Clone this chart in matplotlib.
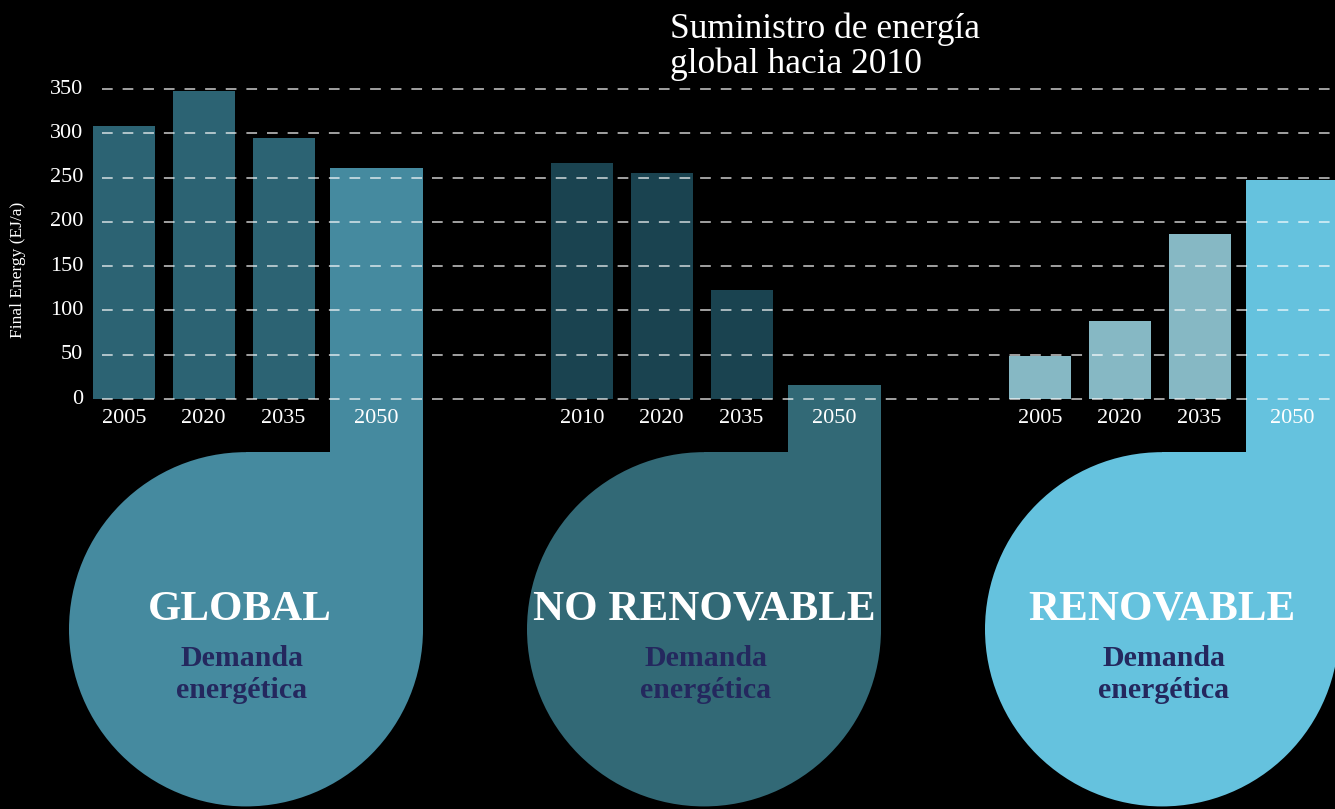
import matplotlib.pyplot as plt
from matplotlib.patches import Ellipse, Rectangle

# data (EJ/a)
group_names = ["GLOBAL", "NO RENOVABLE", "RENOVABLE"]
global_years = ["2005", "2020", "2035", "2050"]
global_values = [308, 348, 295, 261]
norenov_years = ["2010", "2020", "2035", "2050"]
norenov_values = [266, 255, 123, 16]
renov_years = ["2005", "2020", "2035", "2050"]
renov_values = [49, 88, 186, 247]
yticks = [0, 50, 100, 150, 200, 250, 300, 350]
title_lines = [u"Suministro de energía", u"global hacia 2010"]
bubble_sub = [u"Demanda", u"energética"]
ylabel = "Final Energy (EJ/a)"

# colours: (first three bars, 2050 bar + bubble)
colors = [("#2C6373", "#458A9F"), ("#1A4350", "#326976"), ("#86B8C4", "#65C2DE")]
navy = "#24285E"
serif = ["Liberation Serif", "DejaVu Serif"]

W, H = 1335, 809
y0_px = 399                 # pixel row of value 0
k = 310 / 350.0             # pixels per EJ/a
fig = plt.figure(figsize=(W / 100.0, H / 100.0), dpi=100, facecolor="black")
ax = fig.add_axes([0, 0, 1, 1])
ax.set_facecolor("black")
ax.set_xlim(0, W)
ax.set_ylim(-(H - y0_px) / k, y0_px / k)
ax.axis("off")


def py(p):
    # pixel row -> data value
    return (y0_px - p) / k


group_x0 = [93, 551, 1009]
offsets = [0, 79.5, 159.5, 237]
widths = [62, 62, 62, 93]
r_px = 177
circ_cy = -260
circ_h = 400
shape_top = -60

series = [(global_years, global_values), (norenov_years, norenov_values), (renov_years, renov_values)]
for g, (years, vals) in enumerate(series):
    xs = [group_x0[g] + o for o in offsets]
    cols = [colors[g][0]] * 3 + [colors[g][1]]
    ax.bar(xs, vals, width=widths, align="edge", color=cols, zorder=2)
    for x, w, yr in zip(xs, widths, years):
        ax.text(x + w / 2.0, py(418), yr, color="white", fontsize=16, family=serif,
                ha="center", va="center", zorder=4)

    # bubble hanging from the 2050 bar
    c = colors[g][1]
    right = xs[3] + widths[3]
    cx = right - r_px
    ax.add_patch(Rectangle((xs[3], shape_top), widths[3], -shape_top + 1, color=c, lw=0, zorder=1))
    ax.add_patch(Rectangle((cx, circ_cy), r_px, shape_top - circ_cy, color=c, lw=0, zorder=1))
    ax.add_patch(Ellipse((cx, circ_cy), 2 * r_px, circ_h, color=c, lw=0, zorder=1))
    tx = cx - 6 if g == 0 else cx
    ax.text(tx, py(620), group_names[g], color="white", fontsize=31, fontweight="bold",
            family=serif, ha="center", va="baseline", zorder=4)
    for line, base in zip(bubble_sub, [666, 698]):
        ax.text(tx + 2, py(base), line, color=navy, fontsize=21.5, fontweight="bold",
                family=serif, ha="center", va="baseline", zorder=4)

# dashed grid drawn over the bars
ax.hlines(yticks, 102, W, colors="white", linestyles=(0, (7, 6.5)), lw=1.1, alpha=0.8, zorder=3)
for t in yticks:
    ax.text(83, t, str(t), color="white", fontsize=16, family=serif, ha="right", va="center")
ax.text(18, py(270), ylabel, color="white", fontsize=12.5, family=serif,
        rotation=90, ha="center", va="center")

for line, base in zip(title_lines, [38, 73]):
    ax.text(670, py(base), line, color="white", fontsize=25.5, family=serif,
            ha="left", va="baseline")

fig.savefig("out.png", dpi=100, facecolor="black")
